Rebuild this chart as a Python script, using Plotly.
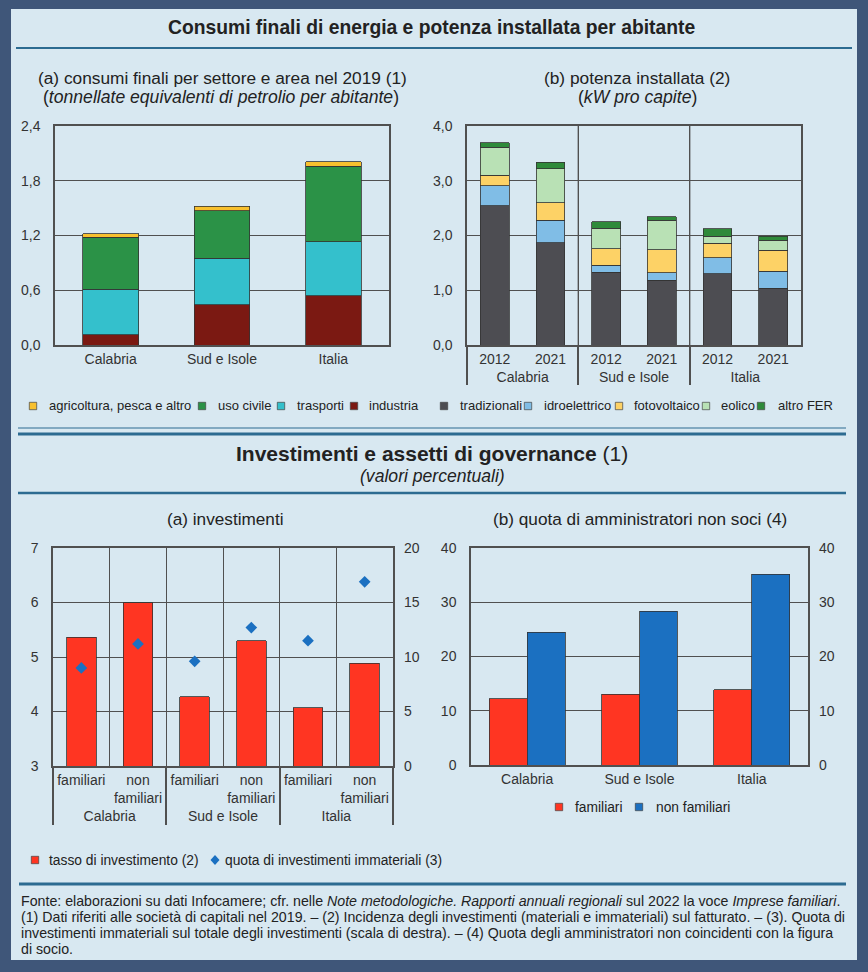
import plotly.graph_objects as go

W, H = 868, 972


def px(x):
    return x / W


def py(y):
    return 1 - y / H


# ---------------- data ----------------
areas = ["Calabria", "Sud e Isole", "Italia"]

# (a) consumi finali per settore (tep per abitante)
cons_industria = [0.11, 0.44, 0.54]
cons_trasporti = [0.50, 0.51, 0.59]
cons_civile = [0.57, 0.52, 0.83]
cons_agri = [0.04, 0.05, 0.05]

# (b) potenza installata (kW pro capite)
pot_area = ["Calabria", "Calabria", "Sud e Isole", "Sud e Isole", "Italia", "Italia"]
pot_year = ["2012", "2021", "2012", "2021", "2012", "2021"]
pot_tradizionali = [2.54, 1.87, 1.33, 1.18, 1.30, 1.04]
pot_idro = [0.37, 0.41, 0.13, 0.14, 0.29, 0.31]
pot_foto = [0.19, 0.32, 0.30, 0.42, 0.27, 0.38]
pot_eolico = [0.51, 0.62, 0.37, 0.54, 0.13, 0.18]
pot_altro = [0.08, 0.12, 0.12, 0.06, 0.13, 0.08]

# (a) investimenti
inv_area = ["Calabria", "Calabria", "Sud e Isole", "Sud e Isole", "Italia", "Italia"]
inv_tipo = ["familiari", "non<br>familiari", "familiari", "non<br>familiari", "familiari", "non<br>familiari"]
inv_tasso = [5.36, 6.00, 4.27, 5.30, 4.07, 4.89]
inv_immateriali = [9.0, 11.2, 9.6, 12.7, 11.5, 16.9]

# (b) quota di amministratori non soci
gov_familiari = [12.2, 13.0, 13.9]
gov_non_familiari = [24.5, 28.3, 35.2]

# ---------------- style ----------------
FRAME = "#3f5679"
PANEL = "#d8e8f1"
RULE = "#2c6b91"
GRID = "#505050"
TXT = "#222222"
FONT = "Liberation Sans, Arial, sans-serif"

C_IND = "#7b1912"
C_TRA = "#34c0cc"
C_CIV = "#2b9247"
C_AGR = "#f8c02e"
C_TRAD = "#4d4d52"
C_IDRO = "#80bde6"
C_FOTO = "#fdd266"
C_EOL = "#b9e1b5"
C_ALT = "#2f8a3a"
C_RED = "#ff3522"
C_BLUE = "#1b70c1"

OUT = dict(color="#333333", width=0.8)

fig = go.Figure()

# panel 1: stacked consumption
cons_series = [("industria", cons_industria, C_IND),
               ("trasporti", cons_trasporti, C_TRA),
               ("uso civile", cons_civile, C_CIV),
               ("agricoltura, pesca e altro", cons_agri, C_AGR)]
for name, vals, col in cons_series:
    fig.add_trace(go.Bar(x=areas, y=vals, name=name, marker=dict(color=col, line=OUT),
                         width=0.5, xaxis="x", yaxis="y", showlegend=False))

# panel 2: stacked installed power
pot_series = [("tradizionali", pot_tradizionali, C_TRAD),
              ("idroelettrico", pot_idro, C_IDRO),
              ("fotovoltaico", pot_foto, C_FOTO),
              ("eolico", pot_eolico, C_EOL),
              ("altro FER", pot_altro, C_ALT)]
for name, vals, col in pot_series:
    fig.add_trace(go.Bar(x=[pot_area, pot_year], y=vals, name=name,
                         marker=dict(color=col, line=OUT), width=0.52,
                         xaxis="x2", yaxis="y3", showlegend=False))

# panel 3: investments
fig.add_trace(go.Bar(x=[inv_area, inv_tipo], y=inv_tasso, name="tasso di investimento (2)",
                     marker=dict(color=C_RED, line=OUT), width=0.52,
                     xaxis="x3", yaxis="y5", showlegend=False))
fig.add_trace(go.Scatter(x=[inv_area, inv_tipo], y=inv_immateriali, mode="markers",
                         name="quota di investimenti immateriali (3)",
                         marker=dict(symbol="diamond", size=9, color=C_BLUE),
                         xaxis="x3", yaxis="y6", showlegend=False))

# panel 4: governance
fig.add_trace(go.Bar(x=areas, y=gov_familiari, name="familiari",
                     marker=dict(color=C_RED, line=OUT), width=0.338, offset=-0.338,
                     xaxis="x4", yaxis="y7", showlegend=False))
fig.add_trace(go.Bar(x=areas, y=gov_non_familiari, name="non familiari",
                     marker=dict(color=C_BLUE, line=OUT), width=0.338, offset=0,
                     xaxis="x4", yaxis="y8", showlegend=False))

tickfont = dict(family=FONT, size=14, color="#333333")


def xax(x0, x1, anchor, **kw):
    d = dict(domain=[px(x0), px(x1)], anchor=anchor, showline=True, mirror=True,
             linecolor=GRID, linewidth=1.5, showgrid=False, ticks="", tickfont=tickfont,
             zeroline=False, fixedrange=True, tickangle=0)
    d.update(kw)
    return d


def yax(y0, y1, anchor, rng, dtick, fmt="", **kw):
    d = dict(domain=[py(y1), py(y0)], anchor=anchor, range=rng, dtick=dtick, tick0=rng[0],
             tickformat=fmt, showline=True, mirror=True, linecolor=GRID, linewidth=1.5,
             showgrid=True, gridcolor=GRID, gridwidth=1.4, zeroline=False, ticks="",
             ticklabelstandoff=10, tickfont=tickfont, fixedrange=True)
    d.update(kw)
    return d


def yright(over, anchor, rng, dtick, fmt=""):
    return dict(overlaying=over, side="right", anchor=anchor, range=rng, dtick=dtick,
                tick0=rng[0], tickformat=fmt, showgrid=False, zeroline=False, showline=False,
                ticks="", ticklabelstandoff=10, tickfont=tickfont, fixedrange=True)


fig.update_layout(
    width=W, height=H, margin=dict(l=0, r=0, t=0, b=0, autoexpand=False),
    paper_bgcolor=FRAME, plot_bgcolor="white",
    font=dict(family=FONT, size=13, color=TXT),
    separators=",.", barmode="stack", bargap=0.3, showlegend=False,
    xaxis=xax(55, 389, "y"),
    yaxis=yax(126, 345, "x", [0, 2.4], 0.6, ".1f"),
    yaxis2=yright("y", "x", [0, 2.4], 0.6, ".1f"),
    xaxis2=xax(467, 801, "y3", type="multicategory", showdividers=True,
               dividercolor=GRID, dividerwidth=1.5),
    yaxis3=yax(126, 345, "x2", [0, 4.0], 1.0, ".1f"),
    yaxis4=yright("y3", "x2", [0, 4.0], 1.0, ".1f"),
    xaxis3=xax(53, 393, "y5", type="multicategory", showdividers=True,
               dividercolor=GRID, dividerwidth=1.5, showgrid=True, gridcolor=GRID,
               gridwidth=1.4, tickson="boundaries"),
    yaxis5=yax(548, 766, "x3", [3, 7], 1),
    yaxis6=yright("y5", "x3", [0, 20], 5),
    xaxis4=xax(471, 808, "y7"),
    yaxis7=yax(548, 765, "x4", [0, 40], 10),
    yaxis8=yright("y7", "x4", [0, 40], 10),
)

shapes = [
    dict(type="rect", xref="paper", yref="paper", x0=px(11), x1=px(857), y0=py(960), y1=py(9),
         fillcolor=PANEL, line=dict(width=0), layer="below"),
    dict(type="line", xref="paper", yref="paper", x0=px(16), x1=px(852), y0=py(48), y1=py(48),
         line=dict(color=RULE, width=2)),
    dict(type="line", xref="paper", yref="paper", x0=px(18), x1=px(846), y0=py(428), y1=py(428),
         line=dict(color=RULE, width=1)),
    dict(type="line", xref="paper", yref="paper", x0=px(18), x1=px(846), y0=py(434), y1=py(434),
         line=dict(color=RULE, width=3)),
    dict(type="line", xref="paper", yref="paper", x0=px(18), x1=px(846), y0=py(493), y1=py(493),
         line=dict(color=RULE, width=2.5)),
    dict(type="line", xref="paper", yref="paper", x0=px(19), x1=px(846), y0=py(884), y1=py(884),
         line=dict(color=RULE, width=3)),
]
# group separators inside panel (b) potenza
for b in [1.5, 3.5]:
    shapes.append(dict(type="line", xref="x2", yref="y3 domain", x0=b, x1=b, y0=0, y1=1,
                       line=dict(color=GRID, width=1.4)))


def ann(text, x, y, size=16, xanchor="center"):
    return dict(text=text, x=px(x), y=py(y), xref="paper", yref="paper", showarrow=False,
                xanchor=xanchor, yanchor="middle", font=dict(family=FONT, size=size, color=TXT))


annotations = [
    ann("<b>Consumi finali di energia e potenza installata per abitante</b>", 431, 28, 19.3),
    ann("(a) consumi finali per settore e area nel 2019 (1)", 222, 78, 17.3),
    ann("(<i>tonnellate equivalenti di petrolio per abitante</i>)", 221, 97, 17.6),
    ann("(b) potenza installata (2)", 637, 78, 17.3),
    ann("(<i>kW pro capite</i>)", 637, 97, 17.6),
    ann("<b>Investimenti e assetti di governance</b> (1)", 432, 454, 21),
    ann("<i>(valori percentuali)</i>", 432, 476, 17.6),
    ann("(a) investimenti", 225, 519, 17.2),
    ann("(b) quota di amministratori non soci (4)", 640, 519, 17.2),
    ann("Fonte: elaborazioni su dati Infocamere; cfr. nelle <i>Note metodologiche. Rapporti annuali "
        "regionali</i> sul 2022 la voce <i>Imprese familiari</i>.", 19, 901, 14.2, "left"),
    ann("(1) Dati riferiti alle società di capitali nel 2019. – (2) Incidenza degli investimenti "
        "(materiali e immateriali) sul fatturato. – (3). Quota di", 19, 917, 14.2, "left"),
    ann("investimenti immateriali sul totale degli investimenti (scala di destra). – (4) Quota degli "
        "amministratori non coincidenti con la figura", 19, 933, 14.2, "left"),
    ann("di socio.", 19, 949, 14.2, "left"),
]

# ---- compact legends (key squares + labels) ----
legend1 = [(33, 47, "agricoltura, pesca e altro", C_AGR),
           (202, 216, "uso civile", C_CIV),
           (281, 295, "trasporti", C_TRA),
           (354, 367, "industria", C_IND)]
legend2 = [(444, 458, "tradizionali", C_TRAD),
           (528, 542, "idroelettrico", C_IDRO),
           (619, 632, "fotovoltaico", C_FOTO),
           (706, 719, "eolico", C_EOL),
           (761, 776, "altro FER", C_ALT)]
legend3 = [(35, 47, "tasso di investimento (2)", C_RED)]
legend4 = [(559, 573, "familiari", C_RED),
           (639, 654, "non familiari", C_BLUE)]


def add_key(cx, tx, label, color, y, size, half=3.7):
    shapes.append(dict(type="rect", xref="paper", yref="paper",
                       x0=px(cx - half), x1=px(cx + half), y0=py(y + half), y1=py(y - half),
                       fillcolor=color, line=dict(color="#444444", width=0.7)))
    annotations.append(ann(label, tx, y, size, "left"))


for items, y, size in [(legend1, 406, 13), (legend2, 406, 13), (legend3, 860, 13.8),
                       (legend4, 807, 13.8)]:
    for cx, tx, label, color in items:
        add_key(cx, tx, label, color, y, size)

# diamond key for the scatter series
dcx, dcy = 215, 860
shapes.append(dict(type="path", xref="paper", yref="paper",
                   path=f"M {px(dcx - 4.5)},{py(dcy)} L {px(dcx)},{py(dcy - 5)} "
                        f"L {px(dcx + 4.5)},{py(dcy)} L {px(dcx)},{py(dcy + 5)} Z",
                   fillcolor=C_BLUE, line=dict(width=0)))
annotations.append(ann("quota di investimenti immateriali (3)", 223, 860, 13.8, "left"))

fig.update_layout(shapes=shapes, annotations=annotations)

fig.write_html("out.html", config={"displayModeBar": False},
               post_script="document.body.style.margin='0px';"
                           "document.body.style.overflow='hidden';")
